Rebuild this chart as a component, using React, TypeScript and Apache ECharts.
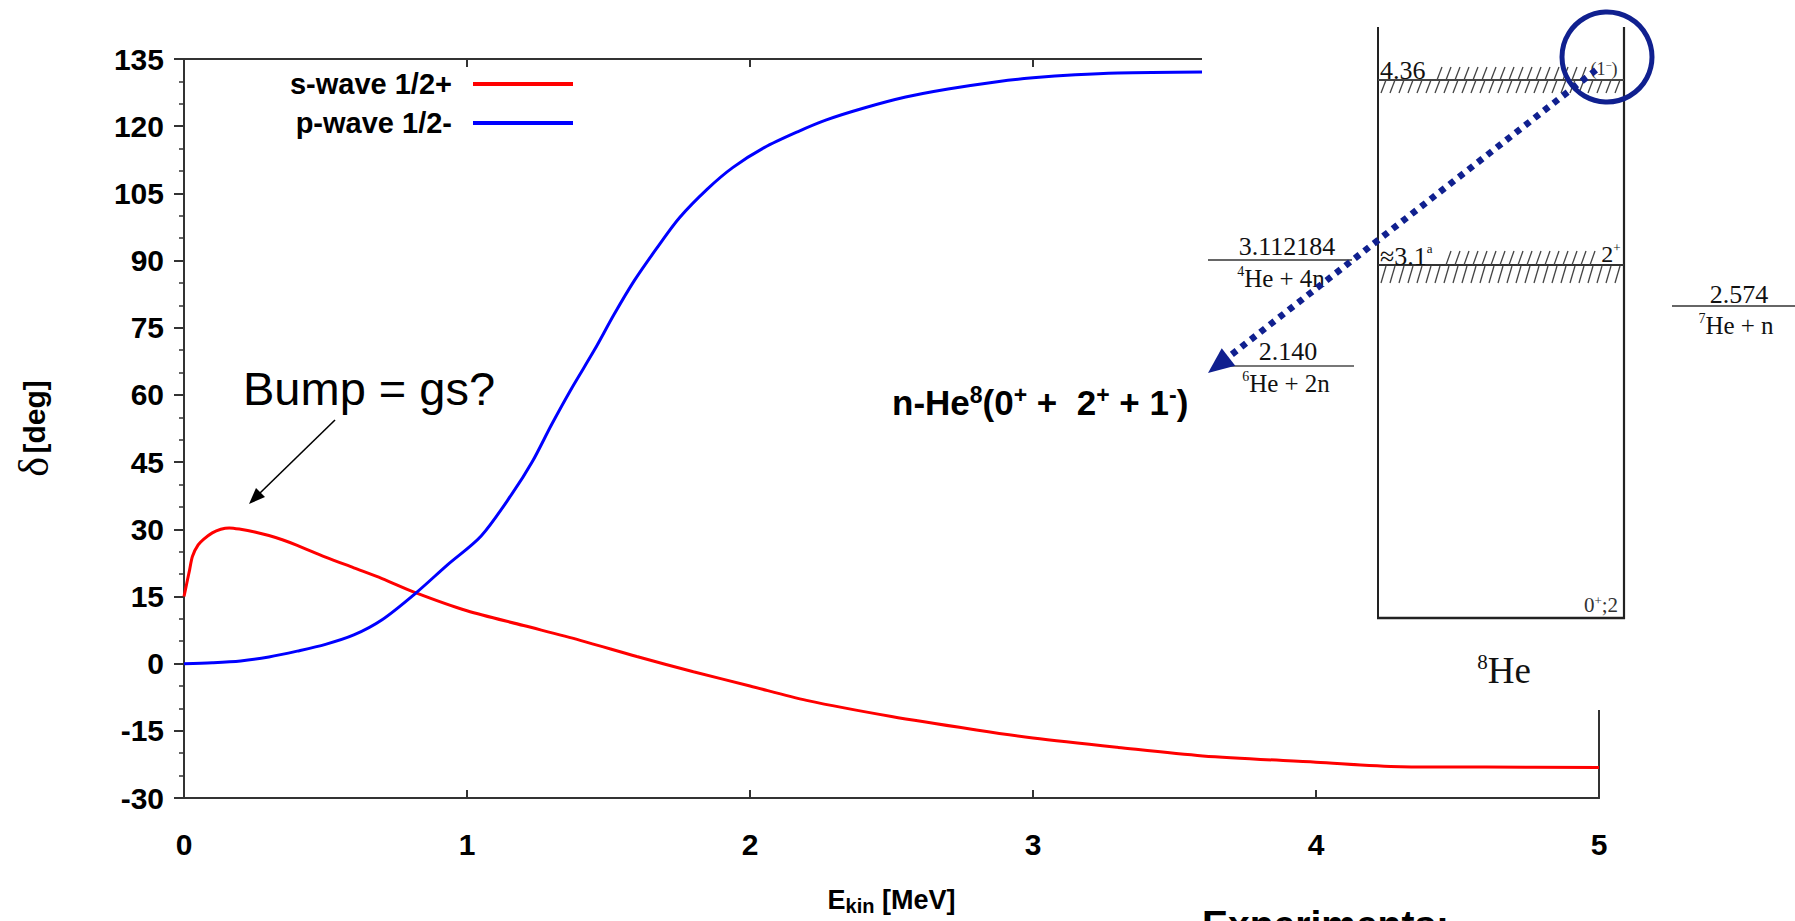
import React, { useEffect, useRef } from 'react';
import * as echarts from 'echarts';

// ---- data ----
const sE = [0, 0.01, 0.02, 0.03, 0.05, 0.07, 0.1, 0.13, 0.16, 0.2, 0.25, 0.3, 0.35, 0.4, 0.5, 0.6, 0.7, 0.82, 1.0, 1.2, 1.4, 1.6, 1.8, 2.0, 2.2, 2.5, 2.8, 3.0, 3.3, 3.6, 4.0, 4.3, 4.6, 5.0];
const sDeg = [15, 18, 21, 24, 26.5, 27.8, 29.2, 30, 30.3, 30, 29.4, 28.6, 27.6, 26.4, 23.8, 21.4, 19, 15.8, 11.8, 8.5, 5.2, 1.6, -1.8, -5.0, -8.2, -11.8, -14.8, -16.6, -18.7, -20.6, -22, -23, -23.1, -23.2];
const pE = [0, 0.1, 0.2, 0.3, 0.4, 0.5, 0.6, 0.7, 0.82, 0.93, 1.05, 1.16, 1.23, 1.3, 1.37, 1.45, 1.52, 1.59, 1.67, 1.75, 1.85, 1.94, 2.05, 2.17, 2.27, 2.4, 2.55, 2.7, 2.88, 3.0, 3.15, 3.3, 3.6];
const pDeg = [0, 0.2, 0.6, 1.5, 2.8, 4.3, 6.4, 9.8, 15.8, 22, 28.5, 38, 45, 53.5, 61.5, 70, 78, 85.4, 92.7, 99.5, 106, 110.8, 115.2, 118.8, 121.4, 124, 126.5, 128.3, 130, 130.8, 131.5, 131.9, 132.1];
const seriesNames = ['s-wave 1/2+', 'p-wave 1/2-'];
const seriesColors = ['#ff0000', '#0000ff'];
const xMin = 0, xMax = 5, xStep = 1;
const yMin = -30, yMax = 135, yStep = 15;

// level-diagram labels
const levelLabels = ['4.36', '≈3.1'];
const thresholdValues = ['3.112184', '2.140', '2.574'];
const thresholdChannels = [['4', 'He + 4n'], ['6', 'He + 2n'], ['7', 'He + n']];

const SANS = "'Liberation Sans', Arial, Helvetica, sans-serif";
const SERIF = "'Liberation Serif', 'Times New Roman', Times, serif";
const NAVY = '#10208f';

function hatch(x0: number, x1: number, yTop: number, yBot: number, step: number) {
  const out: any[] = [];
  for (let x = x0; x + 5 <= x1; x += step) {
    out.push({
      type: 'line', z: 120, silent: true,
      shape: { x1: x, y1: yBot, x2: x + 5, y2: yTop },
      style: { stroke: '#444', lineWidth: 1.3 },
    });
  }
  return out;
}

function serifText(x: number, y: number, text: string, rich: any, align = 'center') {
  return {
    type: 'text', z: 125, x, y, silent: true,
    style: { text, align, verticalAlign: 'middle', fill: '#111', rich },
  };
}

export default function App() {
  const ref = useRef<HTMLDivElement>(null);
  useEffect(() => {
    if (!ref.current) return;
    const chart = echarts.init(ref.current, null, { renderer: 'svg' });

    const supRich = (main: number, sup: number) => ({
      m: { fontSize: main, fontFamily: SERIF, lineHeight: main + 2, fill: '#111' },
      s: { fontSize: sup, fontFamily: SERIF, lineHeight: sup, verticalAlign: 'top', fill: '#111' },
    });

    // arrow geometry (dotted navy arrow)
    const ax0 = 1596, ay0 = 70, tipX = 1208, tipY = 373;
    const dx = tipX - ax0, dy = tipY - ay0;
    const len = Math.sqrt(dx * dx + dy * dy);
    const ux = dx / len, uy = dy / len;
    const bx = tipX - 26 * ux, by = tipY - 26 * uy;
    const px = -uy, py = ux;

    const graphics: any[] = [
      // white cover of the pasted level diagram
      { type: 'rect', z: 100, silent: true, shape: { x: 1202, y: 0, width: 600, height: 710 }, style: { fill: '#fff' } },
      // box of 8He
      { type: 'line', z: 120, shape: { x1: 1378, y1: 27, x2: 1378, y2: 618 }, style: { stroke: '#222', lineWidth: 2 } },
      { type: 'line', z: 120, shape: { x1: 1624, y1: 27, x2: 1624, y2: 619 }, style: { stroke: '#222', lineWidth: 2.2 } },
      { type: 'line', z: 120, shape: { x1: 1377, y1: 618, x2: 1625, y2: 618 }, style: { stroke: '#222', lineWidth: 2.5 } },
      // levels
      { type: 'line', z: 120, shape: { x1: 1378, y1: 80, x2: 1624, y2: 80 }, style: { stroke: '#444', lineWidth: 2 } },
      { type: 'line', z: 120, shape: { x1: 1378, y1: 265, x2: 1624, y2: 265 }, style: { stroke: '#333', lineWidth: 2 } },
      ...hatch(1437, 1588, 67, 80, 9),
      ...hatch(1381, 1622, 80, 93, 9),
      ...hatch(1446, 1602, 251, 265, 9),
      ...hatch(1381, 1622, 266, 283, 9),
      // threshold lines
      { type: 'line', z: 120, shape: { x1: 1208, y1: 260, x2: 1352, y2: 260 }, style: { stroke: '#666', lineWidth: 2 } },
      { type: 'line', z: 120, shape: { x1: 1228, y1: 366, x2: 1354, y2: 366 }, style: { stroke: '#777', lineWidth: 2 } },
      { type: 'line', z: 120, shape: { x1: 1672, y1: 306, x2: 1795, y2: 306 }, style: { stroke: '#666', lineWidth: 2 } },
      // level texts
      serifText(1380, 70, `{m|${levelLabels[0]}}`, supRich(26, 14), 'left'),
      serifText(1604, 69, '{p|(1}{s|−}{p|)}', {
        p: { fontSize: 18, fontFamily: SERIF, lineHeight: 20, fill: '#333' },
        s: { fontSize: 11, fontFamily: SERIF, lineHeight: 10, verticalAlign: 'top', fill: '#333' },
      }),
      serifText(1380, 256, `{m|${levelLabels[1]}}{s|a}`, supRich(26, 13), 'left'),
      serifText(1611, 254, '{m|2}{s|+}', supRich(24, 13)),
      serifText(1601, 605, '{m|0}{s|+}{m|;2}', {
        m: { fontSize: 21, fontFamily: SERIF, lineHeight: 22, fill: '#333' },
        s: { fontSize: 13, fontFamily: SERIF, lineHeight: 11, verticalAlign: 'top', fill: '#333' },
      }),
      serifText(1504, 670, '{s|8}{m|He}', {
        m: { fontSize: 37, fontFamily: SERIF, lineHeight: 38, fill: '#111' },
        s: { fontSize: 21, fontFamily: SERIF, lineHeight: 20, verticalAlign: 'top', fill: '#111' },
      }),
      // threshold texts
      serifText(1287, 246, `{m|${thresholdValues[0]}}`, supRich(26, 14)),
      serifText(1281, 278, `{s|${thresholdChannels[0][0]}}{m|${thresholdChannels[0][1]}}`, supRich(25, 14)),
      serifText(1288, 351, `{m|${thresholdValues[1]}}`, supRich(26, 14)),
      serifText(1286, 383, `{s|${thresholdChannels[1][0]}}{m|${thresholdChannels[1][1]}}`, supRich(25, 14)),
      serifText(1739, 294, `{m|${thresholdValues[2]}}`, supRich(26, 14)),
      serifText(1736, 325, `{s|${thresholdChannels[2][0]}}{m|${thresholdChannels[2][1]}}`, supRich(25, 14)),
      // blue circle
      { type: 'circle', z: 130, shape: { cx: 1607, cy: 57, r: 45 }, style: { fill: 'none', stroke: NAVY, lineWidth: 5 } },
      // dotted arrow
      { type: 'line', z: 130, shape: { x1: ax0, y1: ay0, x2: bx, y2: by }, style: { stroke: NAVY, lineWidth: 6.5, lineDash: [6, 6] } },
      {
        type: 'polygon', z: 130,
        shape: { points: [[tipX, tipY], [bx + 11 * px, by + 11 * py], [bx - 11 * px, by - 11 * py]] },
        style: { fill: NAVY },
      },
      // annotation in the plot
      {
        type: 'text', z: 90, x: 243, y: 388,
        style: { text: 'Bump = gs?', fontSize: 47, fontFamily: SANS, fill: '#000', align: 'left', verticalAlign: 'middle' },
      },
      { type: 'line', z: 90, shape: { x1: 335, y1: 420, x2: 260, y2: 493 }, style: { stroke: '#000', lineWidth: 1.6 } },
      { type: 'polygon', z: 90, shape: { points: [[249, 504], [265, 497], [256, 488]] }, style: { fill: '#000' } },
      {
        type: 'text', z: 90, x: 892, y: 402,
        style: {
          text: '{m|n-He}{s|8}{m|(0}{s|+}{m| +  2}{s|+}{m| + 1}{s|-}{m|)}',
          align: 'left', verticalAlign: 'middle',
          rich: {
            m: { fontSize: 35, fontWeight: 'bold', fontFamily: SANS, lineHeight: 38, fill: '#000' },
            s: { fontSize: 23, fontWeight: 'bold', fontFamily: SANS, lineHeight: 14, verticalAlign: 'top', fill: '#000' },
          },
        },
      },
      {
        type: 'text', z: 90, x: 1202, y: 924,
        style: { text: 'Experiments:', fontSize: 39, fontWeight: 'bold', fontFamily: SANS, fill: '#000', align: 'left', verticalAlign: 'middle' },
      },
    ];

    const legendBase = (name: string, top: number) => ({
      data: [name], right: 1222, top, orient: 'horizontal', align: 'right', icon: 'rect',
      itemWidth: 100, itemHeight: 4, padding: 0, selectedMode: false,
      textStyle: { fontSize: 29, fontWeight: 'bold', fontFamily: SANS, color: '#000', lineHeight: 30, padding: [14, 16, 0, 0] },
    });

    const axisLineStyle = { color: '#333', width: 2 };

    chart.setOption({
      animation: false,
      backgroundColor: '#fff',
      grid: { left: 184, right: 196, top: 59, bottom: 118, containLabel: false },
      legend: [legendBase(seriesNames[0], 62), legendBase(seriesNames[1], 101)],
      xAxis: [
        {
          type: 'value', min: xMin, max: xMax, interval: xStep, position: 'bottom',
          axisLine: { show: true, onZero: false, lineStyle: axisLineStyle },
          axisTick: { show: true, inside: true, length: 8, lineStyle: axisLineStyle },
          axisLabel: { fontSize: 30, fontWeight: 'bold', fontFamily: SANS, color: '#000', margin: 31 },
          splitLine: { show: false },
          name: '{a|E}{s|kin}{a| [MeV]}', nameLocation: 'middle', nameGap: 86,
          nameTextStyle: {
            rich: {
              a: { fontSize: 27, fontWeight: 'bold', fontFamily: SANS, color: '#000', lineHeight: 32, verticalAlign: 'middle' },
              s: { fontSize: 20, fontWeight: 'bold', fontFamily: SANS, color: '#000', lineHeight: 14, verticalAlign: 'bottom' },
            },
          },
        },
        {
          type: 'value', min: xMin, max: xMax, interval: xStep, position: 'top',
          axisLine: { show: true, onZero: false, lineStyle: axisLineStyle },
          axisTick: { show: true, inside: true, length: 8, lineStyle: axisLineStyle },
          axisLabel: { show: false }, splitLine: { show: false },
        },
      ],
      yAxis: [
        {
          type: 'value', min: yMin, max: yMax, interval: yStep, position: 'left',
          axisLine: { show: true, onZero: false, lineStyle: axisLineStyle },
          axisTick: { show: true, inside: false, length: 10, lineStyle: axisLineStyle },
          minorTick: { show: true, splitNumber: 3, length: 5, lineStyle: { color: '#333', width: 1.5 } },
          axisLabel: { fontSize: 30, fontWeight: 'bold', fontFamily: SANS, color: '#000', margin: 20 },
          splitLine: { show: false },
          name: '{g|δ} {b|[deg]}', nameLocation: 'middle', nameRotate: 90, nameGap: 128,
          nameTextStyle: {
            rich: {
              g: { fontSize: 42, fontFamily: SERIF, color: '#000', lineHeight: 44 },
              b: { fontSize: 30, fontWeight: 'bold', fontFamily: SANS, color: '#000', lineHeight: 44 },
            },
          },
        },
        {
          type: 'value', min: yMin, max: yMax, interval: yStep, position: 'right',
          axisLine: { show: true, onZero: false, lineStyle: axisLineStyle },
          axisTick: { show: false }, axisLabel: { show: false }, splitLine: { show: false },
        },
      ],
      series: [
        {
          name: seriesNames[0], type: 'line', xAxisIndex: 0, yAxisIndex: 0,
          data: sE.map((e, i) => [e, sDeg[i]]),
          symbol: 'none', showSymbol: false, smooth: 0.3,
          lineStyle: { color: seriesColors[0], width: 3 }, itemStyle: { color: seriesColors[0] },
        },
        {
          name: seriesNames[1], type: 'line', xAxisIndex: 0, yAxisIndex: 0,
          data: pE.map((e, i) => [e, pDeg[i]]),
          symbol: 'none', showSymbol: false, smooth: 0.3,
          lineStyle: { color: seriesColors[1], width: 3 }, itemStyle: { color: seriesColors[1] },
        },
      ],
      graphic: { elements: graphics },
    });
    return () => chart.dispose();
  }, []);

  return (
    <div
      ref={ref}
      style={{ position: 'fixed', left: 0, top: 0, width: 1795, height: 921, background: '#fff' }}
    />
  );
}
